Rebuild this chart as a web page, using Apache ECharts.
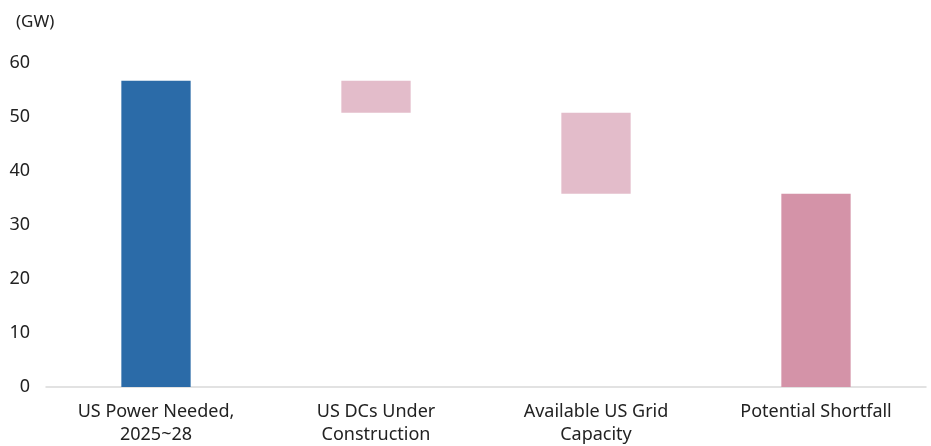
<!DOCTYPE html>
<html>
<head>
<meta charset="utf-8">
<script src="https://cdn.jsdelivr.net/npm/echarts@6/dist/echarts.min.js"></script>
<style>
	html, body { margin: 0; padding: 0; background: #fff; }
	#chart { width: 931px; height: 446px; }
</style>
</head>
<body>
<div id="chart"></div>
<script>
// 数据
const categories = ['US Power Needed,\n2025~28', 'US DCs Under\nConstruction', 'Available US Grid\nCapacity', 'Potential Shortfall'];
const barBottoms = [0, 50.8, 35.8, 0];
const barTops = [56.7, 56.7, 50.8, 35.8];
const yTicks = [0, 10, 20, 30, 40, 50, 60];
const barColors = ['#2B6BA8', '#E3BCCA', '#E3BCCA', '#D493A8'];

const fontFamily = '"Noto Sans", sans-serif';

const myChart = echarts.init(document.getElementById('chart'));
myChart.setOption({
	animation: false,
	title: {
		text: '(GW)',
		left: 11,
		top: 9,
		textStyle: { fontSize: 17, fontWeight: 'normal', color: '#222', fontFamily },
	},
	grid: { // 绘图区
		left: 46,
		right: 5,
		top: 63,
		bottom: 56,
	},
	xAxis: {
		type: 'category',
		data: categories,
		axisTick: { show: false },
		axisLine: { lineStyle: { color: '#d9d9d9', width: 1.5 } },
		axisLabel: {
			color: '#222',
			fontSize: 18,
			lineHeight: 23,
			margin: 13,
			fontFamily,
		},
	},
	yAxis: {
		type: 'value',
		min: yTicks[0],
		max: yTicks[yTicks.length - 1],
		interval: 10,
		splitLine: { show: false },
		axisLine: { show: false },
		axisTick: { show: false },
		axisLabel: { color: '#222', fontSize: 18, margin: 16, fontFamily },
	},
	series: [
		{
			name: 'base',
			type: 'bar',
			stack: 'wf',
			barWidth: '31.5%',
			itemStyle: { color: 'transparent' },
			data: barBottoms,
			silent: true,
		},
		{
			name: 'value',
			type: 'bar',
			stack: 'wf',
			barWidth: '31.5%',
			data: barTops.map((t, i) => ({
				value: +(t - barBottoms[i]).toFixed(2),
				itemStyle: { color: barColors[i] },
			})),
		},
	],
});
</script>
</body>
</html>
